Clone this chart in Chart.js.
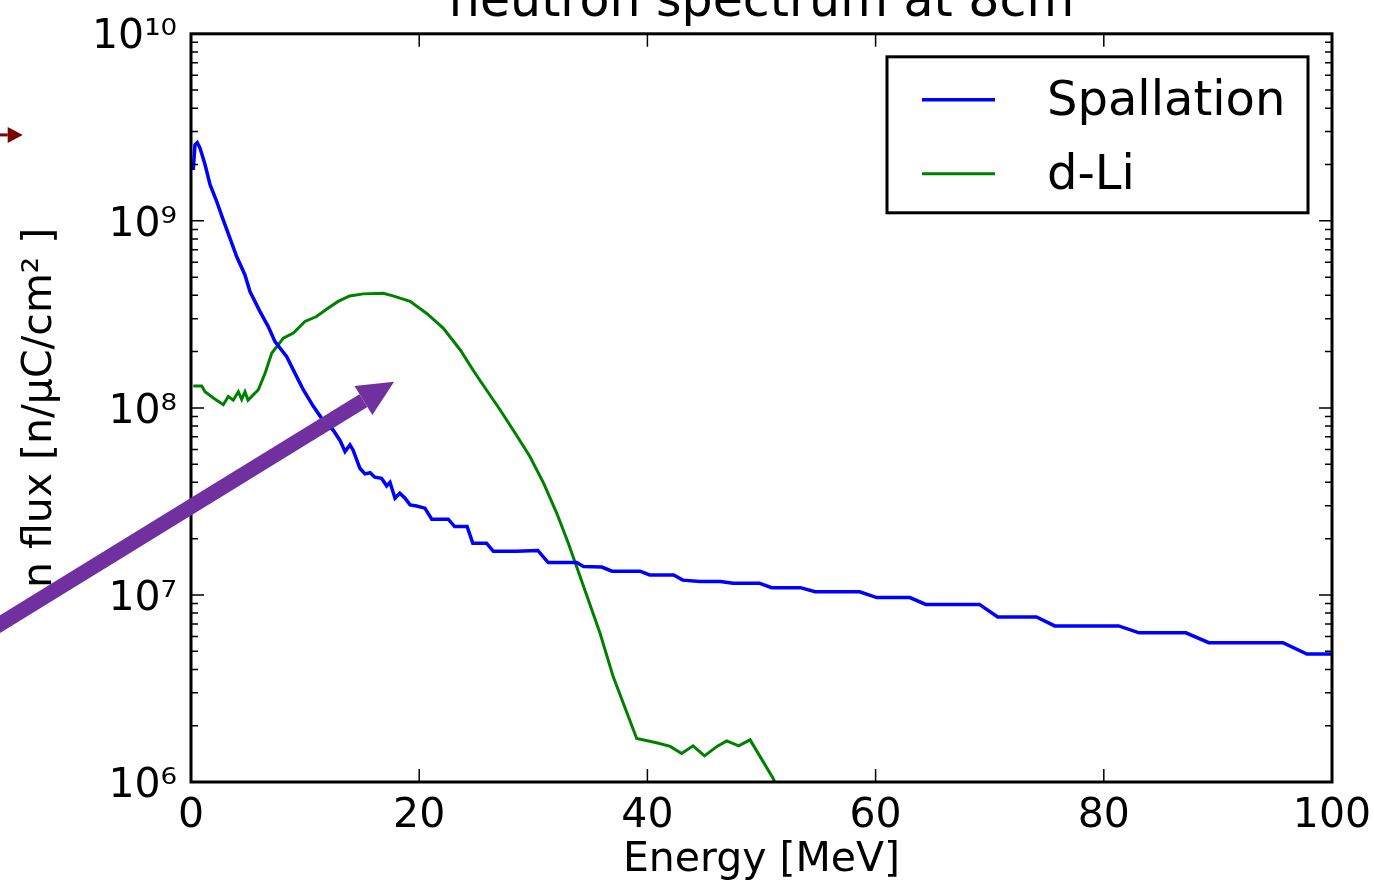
<!DOCTYPE html>
<html>
<head>
<meta charset="utf-8">
<script src="https://cdn.jsdelivr.net/npm/chart.js@4.4.1/dist/chart.umd.min.js"></script>
<style>
  html, body { margin: 0; padding: 0; background: #fff; overflow: hidden; }
  #wrap { position: absolute; left: 0; top: -40px; width: 1374px; height: 925px; }
</style>
</head>
<body>
<div id="wrap"><canvas id="chart" width="1374" height="925"></canvas></div>
<script>
// values (energy in MeV, flux in n/uC/cm^2)
const spallationE = [0.2, 0.35, 0.55, 0.79, 1.23, 1.67, 2.25, 2.83, 3.42, 4.0,
  4.73, 5.17, 6.05, 6.77, 7.36, 8.39, 9.26, 9.84, 10.72, 11.45,
  12.47, 13.06, 13.5, 13.93, 14.2, 14.8, 15.25, 15.7, 16.1, 16.7,
  17.15, 17.44, 17.88, 18.3, 18.76, 19.2, 19.78, 20.5, 21.1, 22.55,
  23.1, 24.2, 24.7, 25.9, 26.5, 28.5, 30.4, 31.3, 33.8, 34.4,
  36.0, 36.9, 39.35, 40.2, 42.3, 43.1, 44.6, 46.4, 47.5, 49.8,
  50.9, 53.4, 54.7, 58.6, 60.1, 63.0, 64.4, 69.1, 70.7, 74.1,
  75.7, 81.3, 83.1, 87.2, 89.2, 95.7, 97.8, 100];
const spallationFlux = [1.87e9, 2.55e9, 2.62e9, 2.45e9, 2.0e9, 1.56e9, 1.27e9, 1.01e9, 8.07e8, 6.44e8,
  5.14e8, 4.19e8, 3.27e8, 2.72e8, 2.26e8, 1.88e8, 1.47e8, 1.25e8, 1.02e8, 8.8e7,
  7.6e7, 6.7e7, 5.84e7, 6.34e7, 5.96e7, 4.76e7, 4.44e7, 4.5e7, 4.26e7, 4.2e7,
  3.83e7, 4.0e7, 3.29e7, 3.5e7, 3.29e7, 3.03e7, 2.99e7, 2.91e7, 2.54e7, 2.54e7,
  2.32e7, 2.32e7, 1.89e7, 1.89e7, 1.71e7, 1.71e7, 1.73e7, 1.49e7, 1.49e7, 1.42e7,
  1.41e7, 1.34e7, 1.34e7, 1.28e7, 1.28e7, 1.20e7, 1.18e7, 1.18e7, 1.156e7, 1.156e7,
  1.094e7, 1.094e7, 1.04e7, 1.04e7, 9.68e6, 9.68e6, 8.9e6, 8.9e6, 7.63e6, 7.63e6,
  6.83e6, 6.83e6, 6.27e6, 6.27e6, 5.56e6, 5.56e6, 4.83e6, 4.83e6];

const dliE = [0.2, 0.94, 1.23, 1.96, 2.83, 3.27, 3.7, 4.15, 4.44, 4.73,
  5.0, 5.9, 6.49, 7.07, 8.09, 8.97, 9.99, 11.0, 12.0, 12.9,
  13.9, 15.1, 16.85, 17.7, 19.2, 20.66, 22.1, 23.6, 24.7, 25.3,
  27.1, 28.5, 29.7, 30.9, 32.05, 33.07, 33.9, 35.85, 37.0, 39.06,
  40.8, 42.0, 43.0, 44.0, 45.0, 46.1, 46.95, 48.0, 49.0, 51.0, 51.5];
const dliFlux = [1.31e8, 1.31e8, 1.22e8, 1.13e8, 1.04e8, 1.15e8, 1.1e8, 1.22e8, 1.11e8, 1.22e8,
  1.1e8, 1.25e8, 1.53e8, 1.96e8, 2.36e8, 2.51e8, 2.9e8, 3.08e8, 3.41e8, 3.71e8,
  3.97e8, 4.07e8, 4.1e8, 3.97e8, 3.71e8, 3.2e8, 2.67e8, 2.04e8, 1.6e8, 1.41e8,
  9.75e7, 7.18e7, 5.5e7, 3.96e7, 2.74e7, 1.89e7, 1.36e7, 6.24e6, 3.66e6, 1.71e6,
  1.62e6, 1.55e6, 1.42e6, 1.56e6, 1.38e6, 1.55e6, 1.66e6, 1.56e6, 1.68e6, 1.05e6, 9.0e5];

const seriesNames = ['Spallation', 'd-Li'];
const xTicks = [0, 20, 40, 60, 80, 100];
const yExponents = [6, 7, 8, 9, 10];

// slide overlay arrows, anchored in data coordinates [energy, flux]
const purpleArrow = [[-18.5, 6.0e6], [17.8, 1.38e8]];
const redArrow = [[-16.9, 2.88e9], [-14.75, 2.88e9]];

const FONT = "'DejaVu Sans', sans-serif";
const sup = {'0': '\u2070', '1': '\u00b9', '6': '\u2076', '7': '\u2077', '8': '\u2078', '9': '\u2079'};
const toSup = n => String(n).split('').map(c => sup[c]).join('');

const toPoints = (xs, ys) => xs.map((v, i) => ({x: v, y: ys[i]}));

const frameTicks = {
  id: 'frameTicks',
  afterDatasetsDraw(chart) {
    const {ctx, chartArea: a, scales: {x, y}} = chart;
    ctx.save();
    ctx.strokeStyle = '#000';
    ctx.lineWidth = 1.5;
    ctx.beginPath();
    xTicks.forEach(v => {
      const px = x.getPixelForValue(v);
      ctx.moveTo(px, a.bottom); ctx.lineTo(px, a.bottom - 13);
      ctx.moveTo(px, a.top); ctx.lineTo(px, a.top + 13);
    });
    const top = Math.max(...yExponents);
    yExponents.forEach(e => {
      for (let k = 1; k <= 9; k++) {
        if (e === top && k > 1) break;
        const py = y.getPixelForValue(k * Math.pow(10, e));
        const len = k === 1 ? 13 : 7;
        ctx.moveTo(a.left, py); ctx.lineTo(a.left + len, py);
        ctx.moveTo(a.right, py); ctx.lineTo(a.right - len, py);
      }
    });
    ctx.stroke();
    ctx.lineWidth = 3;
    ctx.strokeRect(a.left, a.top, a.right - a.left, a.bottom - a.top);
    ctx.restore();
  }
};

const boxLegend = {
  id: 'boxLegend',
  afterDraw(chart) {
    const {ctx, chartArea: a} = chart;
    const w = 421, h = 156;
    const left = a.right - 24 - w, top = a.top + 23;
    ctx.save();
    ctx.fillStyle = '#fff';
    ctx.fillRect(left, top, w, h);
    ctx.strokeStyle = '#000';
    ctx.lineWidth = 3;
    ctx.strokeRect(left, top, w, h);
    chart.data.datasets.forEach((ds, i) => {
      const ly = top + 43 + i * 74;
      ctx.strokeStyle = ds.borderColor;
      ctx.lineWidth = ds.borderWidth;
      ctx.beginPath();
      ctx.moveTo(left + 35, ly); ctx.lineTo(left + 108, ly);
      ctx.stroke();
      ctx.fillStyle = '#000';
      ctx.font = '48px ' + FONT;
      ctx.textBaseline = 'alphabetic';
      ctx.fillText(ds.label, left + 160, ly + 15);
    });
    ctx.restore();
  }
};

function drawArrow(ctx, x0, y0, x1, y1, width, headLen, headHalf, color) {
  const ang = Math.atan2(y1 - y0, x1 - x0);
  const bx = x1 - headLen * Math.cos(ang), by = y1 - headLen * Math.sin(ang);
  ctx.strokeStyle = color;
  ctx.fillStyle = color;
  ctx.lineWidth = width;
  ctx.lineCap = 'butt';
  ctx.beginPath();
  ctx.moveTo(x0, y0); ctx.lineTo(bx, by);
  ctx.stroke();
  const nx = -Math.sin(ang), ny = Math.cos(ang);
  ctx.beginPath();
  ctx.moveTo(x1, y1);
  ctx.lineTo(bx + nx * headHalf, by + ny * headHalf);
  ctx.lineTo(bx - nx * headHalf, by - ny * headHalf);
  ctx.closePath();
  ctx.fill();
}

const overlayArrows = {
  id: 'overlayArrows',
  afterDraw(chart) {
    const {ctx, scales: {x, y}} = chart;
    const p = pt => [x.getPixelForValue(pt[0]), y.getPixelForValue(pt[1])];
    ctx.save();
    const [a0, a1] = purpleArrow.map(p);
    drawArrow(ctx, a0[0], a0[1], a1[0], a1[1], 15, 36, 17, '#7030a0');
    const [r0, r1] = redArrow.map(p);
    drawArrow(ctx, r0[0], r0[1], r1[0], r1[1], 3, 15, 8, '#7b0000');
    ctx.restore();
  }
};

new Chart(document.getElementById('chart'), {
  type: 'line',
  data: {
    datasets: [
      {
        label: seriesNames[0],
        data: toPoints(spallationE, spallationFlux),
        borderColor: '#0000ff',
        borderWidth: 3.5,
        pointRadius: 0,
        tension: 0,
        fill: false
      },
      {
        label: seriesNames[1],
        data: toPoints(dliE, dliFlux),
        borderColor: '#008000',
        borderWidth: 3,
        pointRadius: 0,
        tension: 0,
        fill: false
      }
    ]
  },
  options: {
    responsive: false,
    animation: false,
    devicePixelRatio: 1,
    layout: { padding: { left: 0, right: 42, top: 0, bottom: 0 } },
    plugins: {
      legend: { display: false },
      tooltip: { enabled: false },
      title: {
        display: true,
        fullSize: false,
        text: 'neutron spectrum at 8cm',
        color: '#000',
        font: { family: FONT, size: 49, weight: 'normal' },
        padding: { top: 14, bottom: 1 }
      }
    },
    scales: {
      x: {
        type: 'linear',
        min: 0,
        max: 100,
        afterFit: s => { s.height = 103; s.paddingLeft = 0; s.paddingRight = 0; },
        afterBuildTicks: s => { s.ticks = xTicks.map(v => ({value: v})); },
        grid: { display: false, drawTicks: false },
        border: { display: false },
        ticks: { color: '#000', font: { family: FONT, size: 41 }, padding: 10, maxRotation: 0, autoSkip: false },
        title: {
          display: true,
          text: 'Energy [MeV]',
          color: '#000',
          font: { family: FONT, size: 41 },
          padding: { top: 0, bottom: 0 }
        }
      },
      y: {
        type: 'logarithmic',
        min: Math.pow(10, Math.min(...yExponents)),
        max: Math.pow(10, Math.max(...yExponents)),
        afterFit: s => { s.width = 191; s.paddingTop = 0; s.paddingBottom = 0; },
        grid: { display: false, drawTicks: false },
        border: { display: false },
        ticks: {
          color: '#000',
          font: { family: FONT, size: 41 },
          padding: 14,
          labelOffset: 4,
          autoSkip: false,
          callback: v => {
            const e = Math.round(Math.log10(v));
            return (Math.abs(Math.log10(v) - e) < 1e-9 && yExponents.includes(e)) ? '10' + toSup(e) : '';
          }
        },
        title: {
          display: true,
          text: 'n flux [n/\u03bcC/cm\u00b2 ]',
          color: '#000',
          font: { family: FONT, size: 41 },
          padding: { top: 16, bottom: 0 }
        }
      }
    }
  },
  plugins: [frameTicks, boxLegend, overlayArrows]
});
</script>
</body>
</html>
